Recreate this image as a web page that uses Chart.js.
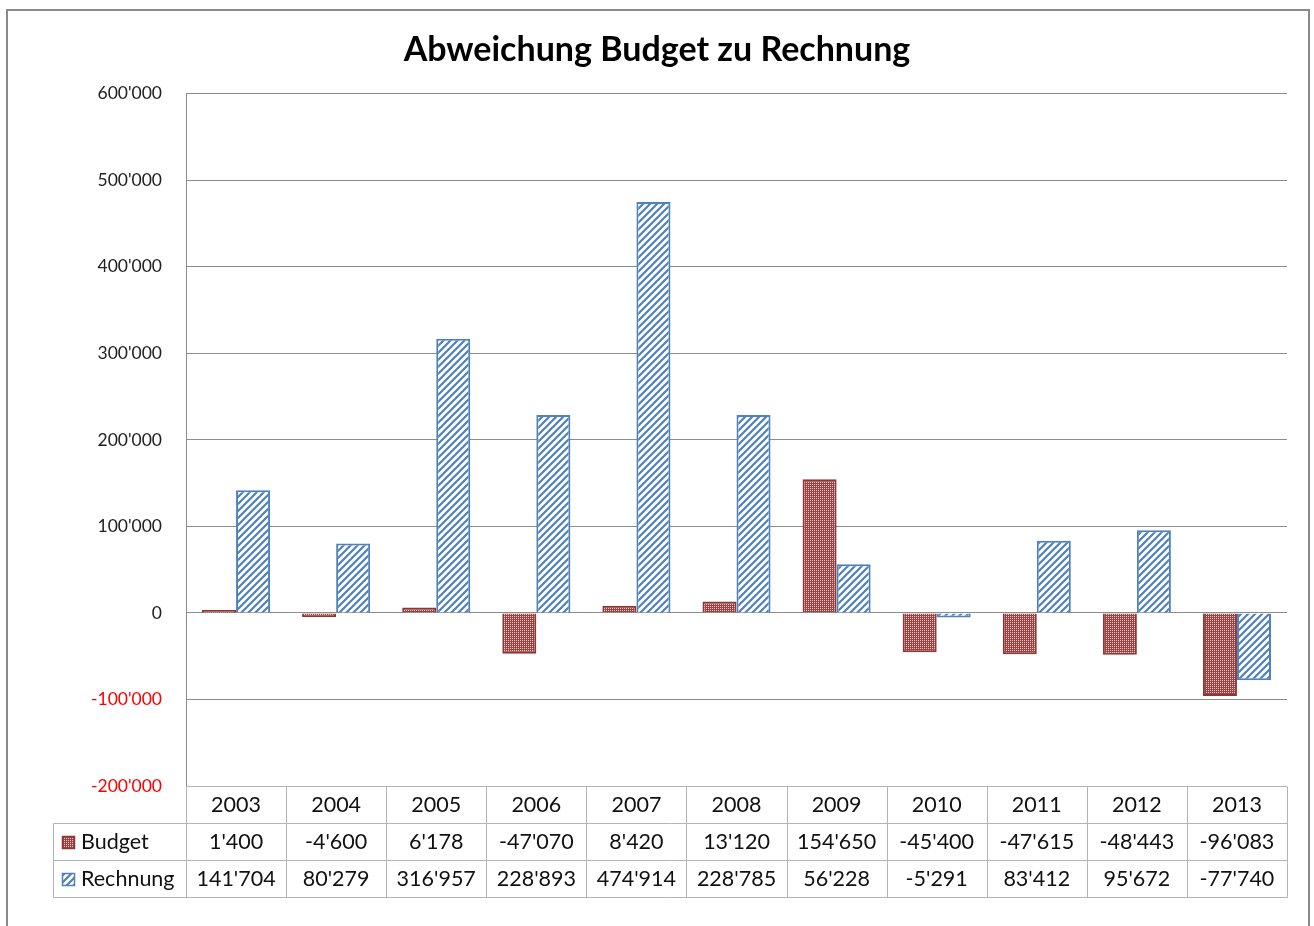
<!DOCTYPE html>
<html>
<head>
<meta charset="utf-8">
<script src="https://cdn.jsdelivr.net/npm/chart.js@4.4.1/dist/chart.umd.min.js"></script>
<style>
  html, body { margin: 0; padding: 0; background: #fff; }
  #wrap { width: 1314px; height: 926px; }
</style>
</head>
<body>
<div id="wrap"><canvas id="grafico" width="1314" height="926"></canvas></div>
<script>
const jahre = ['2003', '2004', '2005', '2006', '2007', '2008', '2009', '2010', '2011', '2012', '2013'];
const budget = [1400, -4600, 6178, -47070, 8420, 13120, 154650, -45400, -47615, -48443, -96083];
const rechnung = [141704, 80279, 316957, 228893, 474914, 228785, 56228, -5291, 83412, 95672, -77740];
const yMin = -200000;
const yMax = 600000;
const yStep = 100000;

const schrift = 'Lato, "Noto Sans", sans-serif';

function formatZahl(v) {
  const s = String(Math.abs(Math.round(v))).replace(/\B(?=(\d{3})+(?!\d))/g, "'");
  return (v < 0 ? '-' : '') + s;
}

function musterBudget() {
  const c = document.createElement('canvas');
  c.width = 2; c.height = 2;
  const g = c.getContext('2d');
  g.fillStyle = '#a3403e';
  g.fillRect(0, 0, 2, 2);
  g.fillStyle = '#efc9c8';
  g.fillRect(0, 0, 1, 1);
  return g.createPattern(c, 'repeat');
}

function musterRechnung() {
  const s = 7;
  const c = document.createElement('canvas');
  c.width = s; c.height = s;
  const g = c.getContext('2d');
  g.fillStyle = '#ffffff';
  g.fillRect(0, 0, s, s);
  g.strokeStyle = '#4f81bd';
  g.lineWidth = 2.2;
  g.beginPath();
  g.moveTo(0, s); g.lineTo(s, 0);
  g.moveTo(-1, 1); g.lineTo(1, -1);
  g.moveTo(s - 1, s + 1); g.lineTo(s + 1, s - 1);
  g.stroke();
  return g.createPattern(c, 'repeat');
}

const fuellBudget = musterBudget();
const fuellRechnung = musterRechnung();

const rahmenPlugin = {
  id: 'rahmen',
  beforeDraw(chart) {
    const ctx = chart.ctx;
    ctx.save();
    ctx.fillStyle = '#ffffff';
    ctx.fillRect(0, 0, chart.width, chart.height);
    ctx.strokeStyle = '#8a8a8a';
    ctx.lineWidth = 2;
    ctx.strokeRect(7, 10, 1302, 940);
    ctx.restore();
  }
};

const tabellePlugin = {
  id: 'tabelle',
  afterDraw(chart) {
    const ctx = chart.ctx;
    const area = chart.chartArea;
    const xs = chart.scales.x;
    const breite = (area.right - area.left) / jahre.length;
    const oben = Math.round(area.bottom) + 0.5;
    const h = 37;
    const links = 53.5;
    const linie = (x1, y1, x2, y2) => { ctx.beginPath(); ctx.moveTo(x1, y1); ctx.lineTo(x2, y2); ctx.stroke(); };

    ctx.save();
    ctx.strokeStyle = '#b4b4b4';
    ctx.lineWidth = 1;
    linie(area.left, oben, area.right, oben);
    for (let r = 1; r <= 3; r++) linie(links, oben + r * h, Math.round(area.right) + 0.5, oben + r * h);
    for (let i = 0; i <= jahre.length; i++) {
      const x = Math.round(area.left + i * breite) + 0.5;
      linie(x, oben, x, oben + 3 * h);
    }
    linie(links, oben + h, links, oben + 3 * h);

    ctx.fillStyle = '#111';
    ctx.font = '21.5px ' + schrift;
    ctx.textAlign = 'center';
    ctx.textBaseline = 'middle';
    jahre.forEach((j, i) => {
      const x = xs.getPixelForValue(i);
      ctx.fillText(j, x, oben + h * 0.5);
      ctx.fillText(formatZahl(budget[i]), x, oben + h * 1.5);
      ctx.fillText(formatZahl(rechnung[i]), x, oben + h * 2.5);
    });

    // Legendenfelder
    const reihen = [
      { name: 'Budget', fuell: fuellBudget, rand: '#8c3836' },
      { name: 'Rechnung', fuell: fuellRechnung, rand: '#4f81bd' }
    ];
    reihen.forEach((r, k) => {
      const ym = oben + h * (1.5 + k);
      ctx.fillStyle = r.fuell;
      ctx.fillRect(62, ym - 6, 13, 13);
      ctx.strokeStyle = r.rand;
      ctx.lineWidth = 1.5;
      ctx.strokeRect(62.5, ym - 5.5, 12, 12);
      ctx.fillStyle = '#111';
      ctx.textAlign = 'left';
      ctx.fillText(r.name, 81, ym);
    });
    ctx.restore();
  }
};

new Chart(document.getElementById('grafico'), {
  type: 'bar',
  data: {
    labels: jahre,
    datasets: [
      {
        label: 'Budget',
        data: budget,
        backgroundColor: fuellBudget,
        borderColor: '#8c3836',
        borderWidth: 2,
        minBarLength: 3
      },
      {
        label: 'Rechnung',
        data: rechnung,
        backgroundColor: fuellRechnung,
        borderColor: '#4f81bd',
        borderWidth: 2,
        minBarLength: 3
      }
    ]
  },
  options: {
    responsive: false,
    devicePixelRatio: 1,
    animation: false,
    categoryPercentage: 0.68,
    barPercentage: 1.0,
    layout: { padding: { left: 27, right: 27, top: 0, bottom: 140 } },
    plugins: {
      legend: { display: false },
      tooltip: { enabled: false },
      title: {
        display: true,
        text: 'Abweichung Budget zu Rechnung',
        color: '#000',
        font: { family: schrift, size: 34, weight: 'bold', lineHeight: 1.2 },
        padding: { top: 30, bottom: 23 }
      }
    },
    scales: {
      x: { display: false },
      y: {
        min: yMin,
        max: yMax,
        afterFit(scale) { scale.width = 159; },
        ticks: {
          stepSize: yStep,
          padding: 24,
          color: (c) => (c.tick.value < 0 ? '#ff0000' : '#222'),
          font: { family: schrift, size: 17.5 },
          callback: (v) => formatZahl(v)
        },
        grid: { color: '#8c8c8c', lineWidth: 1, drawTicks: false },
        border: { display: true, color: '#8c8c8c', width: 1 }
      }
    }
  },
  plugins: [rahmenPlugin, tabellePlugin]
});
</script>
</body>
</html>
